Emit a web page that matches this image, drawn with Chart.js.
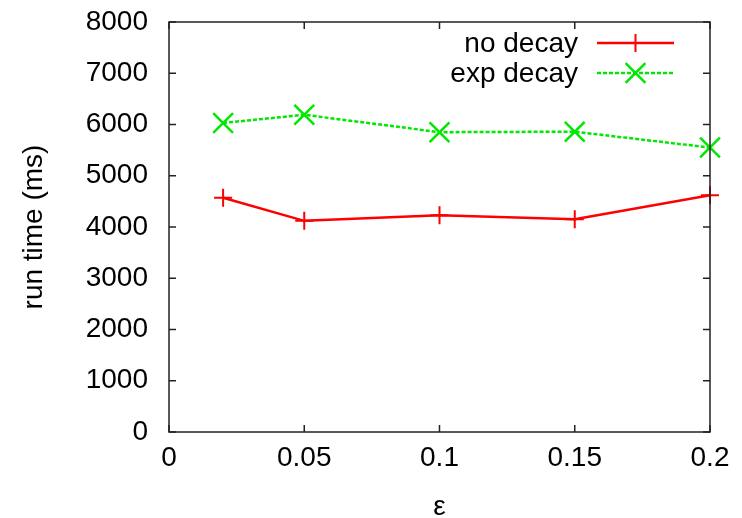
<!DOCTYPE html>
<html>
<head>
<meta charset="utf-8">
<script src="https://cdn.jsdelivr.net/npm/chart.js@4/dist/chart.umd.min.js"></script>
<style>
  html, body { margin: 0; padding: 0; background: #fff; }
  #wrap { width: 742px; height: 518px; }
</style>
</head>
<body>
<div id="wrap"><canvas id="myChart" width="742" height="518"></canvas></div>
<script>
// data
var xValues = [0.02, 0.05, 0.1, 0.15, 0.2];
var noDecay = [4570, 4120, 4230, 4150, 4620];
var expDecay = [6030, 6190, 5850, 5860, 5550];
var xTicks = [0, 0.05, 0.1, 0.15, 0.2];
var yTicks = [0, 1000, 2000, 3000, 4000, 5000, 6000, 7000, 8000];
var seriesNames = ["no decay", "exp decay"];

var FONT = "'Liberation Sans', Arial, Helvetica, sans-serif";
var FS = 28;

function toPoints(ys) {
    return xValues.map(function (x, i) { return { x: x, y: ys[i] }; });
}

function drawMarker(ctx, style, x, y, r) {
    ctx.beginPath();
    if (style === "cross") {
        ctx.moveTo(x - r, y); ctx.lineTo(x + r, y);
        ctx.moveTo(x, y - r); ctx.lineTo(x, y + r);
    } else {
        var d = r * Math.SQRT1_2;
        ctx.moveTo(x - d, y - d); ctx.lineTo(x + d, y + d);
        ctx.moveTo(x - d, y + d); ctx.lineTo(x + d, y - d);
    }
    ctx.stroke();
}

// gnuplot style box with inward ticks on all sides
var frame = {
    id: "frame",
    afterDatasetsDraw: function (chart) {
        var ctx = chart.ctx, a = chart.chartArea;
        var xs = chart.scales.x, ys = chart.scales.y;
        var tl = 7;
        ctx.save();
        ctx.strokeStyle = "#222";
        ctx.lineWidth = 1.5;
        ctx.strokeRect(a.left, a.top, a.right - a.left, a.bottom - a.top);
        ctx.beginPath();
        xTicks.forEach(function (v) {
            var px = xs.getPixelForValue(v);
            ctx.moveTo(px, a.bottom); ctx.lineTo(px, a.bottom - tl);
            ctx.moveTo(px, a.top); ctx.lineTo(px, a.top + tl);
        });
        yTicks.forEach(function (v) {
            var py = ys.getPixelForValue(v);
            ctx.moveTo(a.left, py); ctx.lineTo(a.left + tl, py);
            ctx.moveTo(a.right, py); ctx.lineTo(a.right - tl, py);
        });
        ctx.stroke();
        ctx.restore();
    },
    afterDraw: function (chart) {
        // legend: text on the left, sample on the right
        var ctx = chart.ctx;
        var textRight = 578, x0 = 597, x1 = 674, rowY = [43, 73];
        ctx.save();
        ctx.font = FS + "px " + FONT;
        ctx.textAlign = "right";
        ctx.textBaseline = "middle";
        chart.data.datasets.forEach(function (ds, i) {
            var y = rowY[i];
            ctx.fillStyle = "#000";
            ctx.fillText(ds.label, textRight, y + 1);
            ctx.strokeStyle = ds.borderColor;
            ctx.lineWidth = ds.borderWidth;
            ctx.setLineDash(ds.borderDash || []);
            ctx.beginPath();
            ctx.moveTo(x0, y); ctx.lineTo(x1, y);
            ctx.stroke();
            ctx.setLineDash([]);
            ctx.lineWidth = ds.pointBorderWidth;
            drawMarker(ctx, ds.pointStyle, (x0 + x1) / 2, y, ds.pointRadius);
        });
        ctx.restore();
    }
};

new Chart("myChart", {
    type: "line",
    data: {
        datasets: [{
            label: seriesNames[0],
            data: toPoints(noDecay),
            borderColor: "#ff0000",
            backgroundColor: "#ff0000",
            borderWidth: 2.5,
            pointStyle: "cross",
            pointRadius: 9,
            pointBorderWidth: 2,
            fill: false,
            tension: 0,
            clip: false
        }, {
            label: seriesNames[1],
            data: toPoints(expDecay),
            borderColor: "#00e800",
            backgroundColor: "#00e800",
            borderWidth: 2.5,
            borderDash: [4, 2],
            pointStyle: "crossRot",
            pointRadius: 14,
            pointBorderWidth: 2.5,
            fill: false,
            tension: 0,
            clip: false
        }]
    },
    options: {
        responsive: false,
        animation: false,
        layout: { padding: { top: 22, right: 32, left: 0, bottom: 0 } },
        plugins: {
            legend: { display: false },
            tooltip: { enabled: false }
        },
        scales: {
            x: {
                type: "linear",
                min: 0,
                max: 0.2,
                afterBuildTicks: function (s) { s.ticks = xTicks.map(function (v) { return { value: v }; }); },
                afterFit: function (s) {
                    s.height = 86;
                    s.paddingLeft = 0;
                    s.paddingRight = 0;
                },
                grid: { display: false, drawTicks: false },
                border: { display: false },
                ticks: {
                    color: "#000",
                    font: { family: FONT, size: FS },
                    padding: 9,
                    maxRotation: 0,
                    callback: function (v) { return String(+v.toFixed(2)); }
                },
                title: {
                    display: true,
                    text: "ε",
                    color: "#000",
                    font: { family: FONT, size: FS },
                    padding: { top: 0, bottom: -6 }
                }
            },
            y: {
                min: 0,
                max: 8000,
                afterBuildTicks: function (s) { s.ticks = yTicks.map(function (v) { return { value: v }; }); },
                afterFit: function (s) {
                    s.width = 169;
                    s.paddingTop = 0;
                    s.paddingBottom = 0;
                },
                grid: { display: false, drawTicks: false },
                border: { display: false },
                ticks: {
                    color: "#000",
                    font: { family: FONT, size: FS },
                    padding: 21,
                    callback: function (v) { return String(v); }
                },
                title: {
                    display: true,
                    text: "run time (ms)",
                    color: "#000",
                    font: { family: FONT, size: FS },
                    padding: { top: 17, bottom: 0 }
                }
            }
        }
    },
    plugins: [frame]
});
</script>
</body>
</html>
